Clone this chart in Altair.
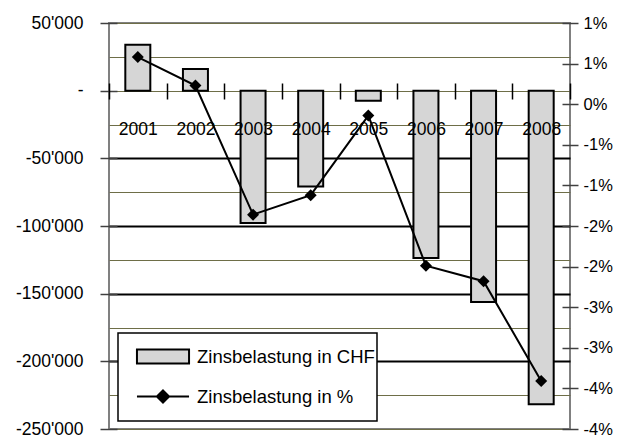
import json
import altair as alt
import pandas as pd

FONT = "Liberation Sans, Arial"

# ---- data ----
years = ["2001", "2002", "2003", "2004", "2005", "2006", "2007", "2008"]
chf_values = [34000, 16000, -97700, -70900, -7400, -123700, -156200, -231800]
pct_values = [0.58, 0.23, -1.36, -1.12, -0.14, -1.99, -2.18, -3.41]

left_ticks = [50000, 0, -50000, -100000, -150000, -200000, -250000]
left_labels = ["50'000", "-", "-50'000", "-100'000", "-150'000", "-200'000", "-250'000"]
left_grid = [50000, 25000, 0, -25000, -50000, -75000, -100000, -125000,
             -150000, -175000, -200000, -225000, -250000]
right_ticks = [1.0, 0.5, 0.0, -0.5, -1.0, -1.5, -2.0, -2.5, -3.0, -3.5, -4.0]
right_labels = ["1%", "1%", "0%", "-1%", "-1%", "-2%", "-2%", "-3%", "-3%", "-4%", "-4%"]
legend_labels = ["Zinsbelastung in CHF", "Zinsbelastung in %"]

df = pd.DataFrame({"year": years, "chf": chf_values, "pct": pct_values})
legend_df = pd.DataFrame({"series": legend_labels})

W, H = 461, 406
FS = 17.5

lt = json.dumps(left_ticks)
ll = json.dumps(left_labels)
rt = json.dumps(right_ticks)
rl = json.dumps(right_labels)

x_enc = alt.X(
    "year:N",
    sort=years,
    scale=alt.Scale(paddingInner=0, paddingOuter=0),
    axis=alt.Axis(
        orient="bottom", offset=-346, tickSize=16, tickBand="extent",
        domain=False, grid=False, labelAngle=0, labelFont=FONT,
        labelFontSize=FS, labelPadding=21, labelColor="black",
        tickColor="black", tickWidth=1.5, title=None, zindex=2,
    ),
)

major_test = "datum.value < 0 && datum.value > -250000 && datum.value % 50000 === 0"

bars = alt.Chart(df).mark_bar(
    size=25, fill="#d6d6d6", stroke="black", strokeWidth=2
).encode(
    x=x_enc,
    y=alt.Y(
        "chf:Q",
        scale=alt.Scale(domain=[-250000, 50000], nice=False, zero=False),
        axis=alt.Axis(
            orient="left", values=left_grid, offset=-8, tickSize=17,
            domain=False, title=None, labelFont=FONT, labelFontSize=FS,
            labelPadding=17, labelColor="black",
            labelExpr=f"indexof({lt}, datum.value) >= 0 ? {ll}[indexof({lt}, datum.value)] : ''",
            tickColor="#404040", tickWidth=1.5,
            tickOpacity={"condition": {"test": f"indexof({lt}, datum.value) >= 0", "value": 1}, "value": 0},
            grid=True,
            gridColor={"condition": {"test": major_test, "value": "black"}, "value": "#6e6e48"},
            gridWidth={"condition": {"test": major_test, "value": 2}, "value": 1},
        ),
    ),
)

line = alt.Chart(df).mark_line(
    color="black", strokeWidth=2,
    point=alt.OverlayMarkDef(shape="diamond", filled=True, size=144, color="black"),
).encode(
    x=x_enc,
    y=alt.Y(
        "pct:Q",
        scale=alt.Scale(domain=[-4.0, 1.0], nice=False, zero=False),
        axis=alt.Axis(
            orient="right", values=right_ticks, offset=-8, tickSize=16,
            domain=False, grid=False, title=None, labelFont=FONT,
            labelFontSize=16.5, labelPadding=5, labelColor="black",
            labelExpr=f"{rl}[indexof({rt}, datum.value)]",
            tickColor="#404040", tickWidth=1.5,
        ),
    ),
)

rect_path = "M-1.24,-0.33H1.24V0.33H-1.24Z"
line_path = "M-1.24,0H1.24M0,-0.29L0.29,0L0,0.29L-0.29,0Z"

leg = alt.Legend(
    title=" ", titleOrient="bottom", titleFontSize=12, titlePadding=2,
    orient="none", legendX=9, legendY=310, direction="vertical",
    fillColor="white", strokeColor="black", padding=1.5,
    symbolSize=1764, symbolStrokeWidth=2, symbolStrokeColor="black",
    symbolOpacity=1, symbolOffset=21.5, labelOffset=12, rowPadding=7,
    labelFont=FONT, labelFontSize=18.5, labelColor="black", labelLimit=400,
    labelExpr="datum.label + '     '",
)

sym_scale = dict(domain=legend_labels)

legend_layer = alt.Chart(legend_df).transform_filter("false").mark_point(
    filled=False, strokeWidth=2
).encode(
    shape=alt.Shape("series:N", scale=alt.Scale(range=[rect_path, line_path], **sym_scale), legend=leg),
    fill=alt.Fill("series:N", scale=alt.Scale(range=["#d6d6d6", "black"], **sym_scale), legend=leg),
    stroke=alt.Stroke("series:N", scale=alt.Scale(range=["black", "black"], **sym_scale), legend=leg),
)

chart = alt.layer(bars, line, legend_layer).resolve_scale(
    y="independent"
).properties(
    width=W, height=H,
    autosize=alt.AutoSizeParams(type="none"),
    padding={"left": 101, "top": 15, "right": 45, "bottom": 8},
    background="white",
).configure_view(
    fill="#FFFF99", stroke="#808080", strokeWidth=2
).configure_legend(
    strokeWidth=1.5
)

chart.save("out.html", embed_options={"renderer": "svg", "actions": False})
